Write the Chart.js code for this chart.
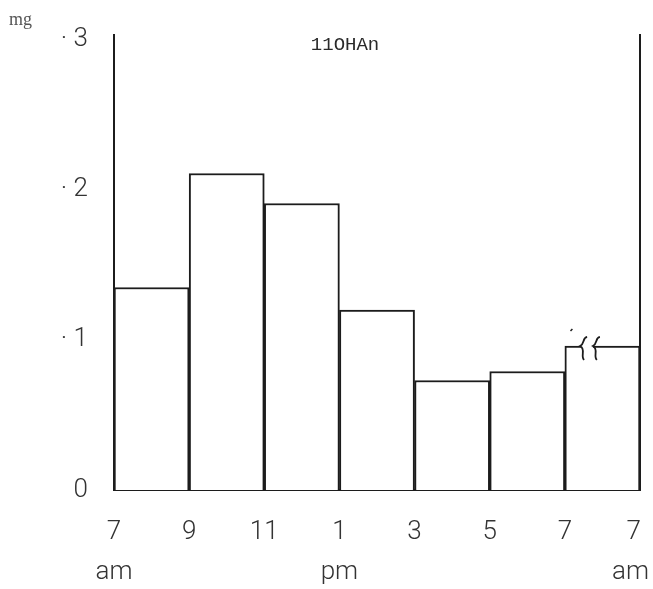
<!DOCTYPE html>
<html>
<head>
<meta charset="utf-8">
<script src="https://cdn.jsdelivr.net/npm/chart.js@4/dist/chart.umd.min.js"></script>
<style>
html,body{margin:0;padding:0;background:#fff;}
canvas{display:block;background:#fff;}
</style>
</head>
<body>
<canvas id="c" width="653" height="589"></canvas>
<script>
// ---- data (hours after 7 am; each bar covers a 2-hour collection period) ----
const periodCentres = [1, 3, 5, 7, 9, 11, 13];
const values = [0.135, 0.211, 0.191, 0.120, 0.073, 0.079, 0.096];
const xTickValues = [0, 2, 4, 6, 8, 10, 12, 14];
const xTickLabels = [["7", "am"], "9", "11", ["1", "pm"], "3", "5", "7", ["7  ", "am   "]];
const yTickValues = [0, 0.1, 0.2, 0.3];
const yTickLabels = ["0", "· 1", "· 2", "· 3"];
const seriesTitle = "11OHAn";
const unitLabel = "mg";

const lineColor = '#1c1c1c';
const textColor = '#333';
const tickFont = {family: 'Roboto, "DejaVu Sans", sans-serif', size: 26, weight: '300', lineHeight: 1.55};

const annotations = {
  id: 'annotations',
  afterDraw(chart) {
    const {ctx, chartArea: a, scales: {x, y}} = chart;
    ctx.save();
    // series title
    ctx.fillStyle = '#2a2a2a';
    ctx.font = '19px "Liberation Mono", monospace';
    ctx.textAlign = 'center';
    ctx.textBaseline = 'middle';
    ctx.fillText(seriesTitle, x.getPixelForValue(6.15), y.getPixelForValue(0.2967));
    // unit
    ctx.fillStyle = '#555';
    ctx.font = '18px "Liberation Serif", serif';
    ctx.textAlign = 'left';
    ctx.textBaseline = 'alphabetic';
    ctx.fillText(unitLabel, a.left - 105, a.top - 10);
    // break mark on the last (overnight) bar
    const by = y.getPixelForValue(values[6]);
    const x1 = x.getPixelForValue(12.38), x2 = x.getPixelForValue(12.72);
    ctx.fillStyle = '#fff';
    ctx.fillRect(x1 + 2, by - 2, x2 - x1 - 1, 4);
    ctx.strokeStyle = lineColor;
    ctx.lineWidth = 1.8;
    [x1, x2].forEach(px => {
      ctx.beginPath();
      ctx.moveTo(px + 8, by - 9);
      ctx.bezierCurveTo(px + 3, by - 8, px + 6, by - 3, px + 1, by);
      ctx.bezierCurveTo(px + 7, by + 3, px + 1, by + 10, px + 5, by + 14);
      ctx.stroke();
    });
    // small stray mark above the break
    ctx.lineWidth = 1.5;
    ctx.beginPath();
    ctx.moveTo(x.getPixelForValue(12.15), by - 15);
    ctx.lineTo(x.getPixelForValue(12.2), by - 17);
    ctx.stroke();
    ctx.restore();
  }
};

new Chart(document.getElementById('c'), {
  type: 'bar',
  data: {
    datasets: [{
      data: periodCentres.map((c, i) => ({x: c, y: values[i]})),
      backgroundColor: '#fff',
      borderColor: lineColor,
      borderWidth: 2,
      barPercentage: 1,
      categoryPercentage: 1
    }]
  },
  options: {
    responsive: false,
    animation: false,
    layout: {padding: {left: 0, right: 13, top: 35, bottom: 0}},
    plugins: {legend: {display: false}, tooltip: {enabled: false}, title: {display: false}},
    scales: {
      x: {
        type: 'linear', min: 0, max: 14, offset: false,
        grid: {display: false, drawTicks: false, offset: false},
        border: {display: true, color: lineColor, width: 2},
        afterBuildTicks: s => { s.ticks = xTickValues.map(v => ({value: v})); },
        ticks: {autoSkip: false, maxRotation: 0, minRotation: 0, padding: 22, color: textColor, font: tickFont,
                callback: (v, i) => xTickLabels[i]},
        afterFit: s => { s.height = 99; s.paddingLeft = 0; s.paddingRight = 0; }
      },
      y: {
        type: 'linear', position: 'left', min: 0, max: 0.3033,
        grid: {display: false, drawTicks: false},
        border: {display: true, color: lineColor, width: 2},
        afterBuildTicks: s => { s.ticks = yTickValues.map(v => ({value: v})); },
        ticks: {padding: 26, color: textColor, font: tickFont, callback: (v, i) => yTickLabels[i]},
        afterFit: s => { s.width = 114; s.paddingTop = 0; s.paddingBottom = 0; }
      },
      yr: {
        type: 'linear', position: 'right', min: 0, max: 0.3033,
        grid: {display: false, drawTicks: false},
        border: {display: true, color: lineColor, width: 2},
        ticks: {display: false},
        afterFit: s => { s.width = 0; s.paddingTop = 0; s.paddingBottom = 0; }
      }
    }
  },
  plugins: [annotations]
});
</script>
</body>
</html>
